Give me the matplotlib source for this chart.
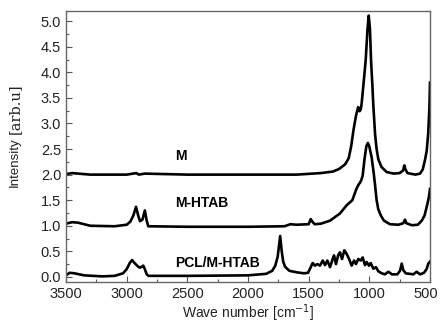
import matplotlib
matplotlib.use("Agg")
import matplotlib.pyplot as plt
import matplotlib.transforms as mtransforms
from matplotlib.ticker import MultipleLocator

# ---- data ----
m_wn = [3500, 3450, 3400, 3300, 3000, 2920, 2900, 2850, 2500, 2000, 1600, 1400, 1300,
        1250, 1200, 1170, 1150, 1130, 1110, 1092, 1080, 1070, 1063, 1045, 1030, 1015,
        1005, 995, 986, 975, 967, 953, 940, 926, 900, 857, 800, 750, 722, 712, 702,
        685, 620, 582, 560, 540, 527, 515, 505, 500]
m_val = [2.01, 2.03, 2.02, 2.0, 2.0, 2.03, 2.0, 2.02, 2.0, 2.0, 2.0, 2.03, 2.06,
         2.11, 2.2, 2.32, 2.55, 2.88, 3.15, 3.32, 3.24, 3.28, 3.4, 3.85, 4.24, 4.85,
         5.11, 4.85, 4.24, 3.75, 3.35, 2.8, 2.5, 2.3, 2.15, 2.05, 2.02, 2.03, 2.08, 2.18, 2.1,
         2.03, 2.0, 2.02, 2.1, 2.3, 2.47, 2.8, 3.3, 3.8]

mh_wn = [3500, 3450, 3400, 3300, 3100, 3000, 2970, 2945, 2923, 2905, 2890, 2870, 2850,
         2835, 2822, 2500, 2000, 1700, 1650, 1600, 1500, 1483, 1470, 1450, 1400, 1324,
         1242, 1187, 1140, 1105, 1085, 1077, 1065, 1055, 1040, 1025, 1012, 1000, 981,
         965, 953, 940, 926, 905, 880, 830, 760, 720, 706, 695, 650, 600, 568, 545, 527,
         510, 500]
mh_val = [1.04, 1.07, 1.06, 1.0, 0.99, 1.02, 1.08, 1.2, 1.37, 1.2, 1.09, 1.12, 1.3,
          1.1, 0.99, 0.98, 0.98, 0.99, 1.03, 1.02, 1.03, 1.13, 1.08, 1.03, 1.04, 1.1,
          1.24, 1.4, 1.5, 1.73, 1.82, 1.84, 1.9, 1.98, 2.3, 2.55, 2.62, 2.55, 2.34,
          2.05, 1.8, 1.5, 1.32, 1.2, 1.1, 1.03, 1.02, 1.05, 1.12, 1.05, 1.01, 1.02, 1.1,
          1.2, 1.37, 1.55, 1.72]

p_wn = [3500, 3470, 3430, 3350, 3200, 3100, 3030, 3000, 2975, 2955, 2935, 2905, 2890,
        2875, 2863, 2850, 2835, 2820, 2500, 2000, 1850, 1800, 1775, 1755, 1735, 1722,
        1710, 1695, 1660, 1600, 1540, 1505, 1489, 1467, 1448, 1429, 1407, 1384, 1365,
        1346, 1324, 1302, 1291, 1275, 1256, 1242, 1225, 1206, 1187, 1165, 1146, 1126,
        1110, 1091, 1071, 1055, 1036, 1022, 1003, 989, 967, 945, 926, 898, 871, 844,
        830, 815, 769, 747, 733, 720, 700, 637, 610, 582, 549, 527, 514, 500]
p_val = [0.03, 0.08, 0.07, 0.03, 0.01, 0.02, 0.07, 0.15, 0.27, 0.33, 0.27, 0.2, 0.18,
         0.2, 0.22, 0.15, 0.05, 0.02, 0.02, 0.03, 0.06, 0.12, 0.22, 0.4, 0.8, 0.5,
         0.3, 0.2, 0.12, 0.09, 0.07, 0.08, 0.16, 0.27, 0.22, 0.25, 0.22, 0.32, 0.23,
         0.32, 0.19, 0.35, 0.42, 0.25, 0.43, 0.48, 0.35, 0.52, 0.45, 0.34, 0.22, 0.32,
         0.25, 0.35, 0.32, 0.38, 0.23, 0.29, 0.22, 0.27, 0.16, 0.19, 0.11, 0.07, 0.05, 0.1,
         0.08, 0.05, 0.05, 0.12, 0.26, 0.13, 0.07, 0.05, 0.1, 0.05, 0.08, 0.16, 0.26, 0.3]

labels = ["M", "M-HTAB", "PCL/M-HTAB"]
label_pos = [(2600, 2.36), (2600, 1.44), (2600, 0.27)]

x_ticks = [3500, 3000, 2500, 2000, 1500, 1000, 500]
y_ticks = [0.0, 0.5, 1.0, 1.5, 2.0, 2.5, 3.0, 3.5, 4.0, 4.5, 5.0]

# ---- figure ----
plt.rcParams['font.family'] = ['Liberation Sans', 'DejaVu Sans']
fig = plt.figure(figsize=(4.4, 3.23), dpi=100)
ax = fig.add_axes([66/440, 1-282/323, (430-66)/440, (282-11)/323])

for wn, val in [(m_wn, m_val), (mh_wn, mh_val), (p_wn, p_val)]:
    ax.plot(wn, val, color='black', lw=1.9, solid_joinstyle='round')

for lab, (xw, yv) in zip(labels, label_pos):
    ax.text(xw, yv, lab, fontsize=10, fontweight='bold', ha='left', va='center')

ax.set_xlim(3500, 500)
ax.set_ylim(-0.1, 5.2)
ax.set_xticks(x_ticks)
ax.set_xticklabels([str(t) for t in x_ticks])
ax.set_yticks(y_ticks)
ax.set_yticklabels([f"{t:.1f}" for t in y_ticks])
ax.xaxis.set_minor_locator(MultipleLocator(250))
ax.yaxis.set_minor_locator(MultipleLocator(0.25))
ax.tick_params(which='both', direction='in', colors='#555555', labelcolor='#222222',
               labelsize=10.5, width=0.8)
ax.tick_params(which='major', length=4)
ax.tick_params(which='minor', length=2.5)
for s in ax.spines.values():
    s.set_color('#666666')
    s.set_linewidth(1.0)

# nudge the last x tick label so it stays inside the figure
last = ax.get_xticklabels()[-1]
last.set_transform(last.get_transform() +
                   mtransforms.ScaledTranslation(-4/100, 0, fig.dpi_scale_trans))

ax.set_xlabel("Wave number [cm$^{-1}$]", fontsize=10, color='#222222', labelpad=1)
fig.text(15/440, 1-187/323, "Intensity", rotation=90, rotation_mode='anchor',
         ha='left', va='center', fontsize=9.5, color='#222222')
fig.text(15/440, 1-134/323, "[arb.u]", rotation=90, rotation_mode='anchor',
         ha='left', va='center', fontsize=10.5, color='#222222', family='DejaVu Serif')

fig.savefig("out.png", dpi=100)
